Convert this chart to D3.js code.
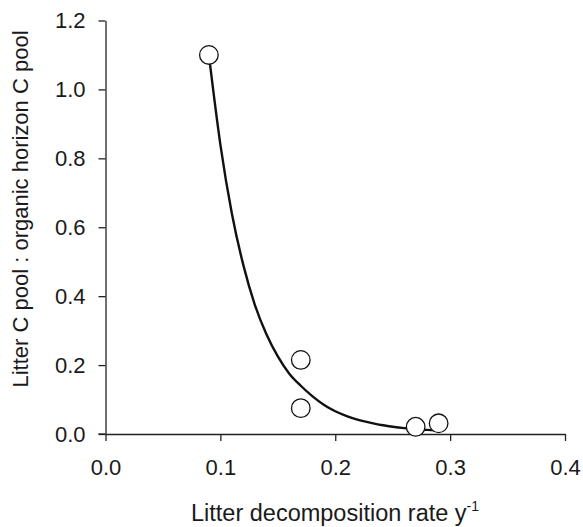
<!DOCTYPE html>
<html lang="en">
<head>
<meta charset="utf-8">
<title>Litter C pool ratio</title>
<script src="https://d3js.org/d3.v7.min.js"></script>
<style>
  body { margin: 0; background: #fff; font-family: "Liberation Sans", Arial, sans-serif; }
  .axis path, .axis line { stroke: #222; stroke-width: 1.3; }
  .axis text { font-size: 22px; fill: #1a1a1a; font-family: "Liberation Sans", Arial, sans-serif; }
  .title { font-size: 22px; fill: #1a1a1a; }
</style>
</head>
<body>
<svg id="chart" width="583" height="527"></svg>
<script>
// observed points
var rateX = [0.09, 0.17, 0.17, 0.27, 0.29];
var ratioY = [1.10, 0.215, 0.075, 0.021, 0.031];

// fitted curve
var curveX = [0.09, 0.10, 0.11, 0.12, 0.13, 0.14, 0.15, 0.16, 0.17, 0.18, 0.19, 0.20,
              0.21, 0.22, 0.23, 0.24, 0.25, 0.26, 0.27, 0.28, 0.29];
var curveY = [1.10, 0.84, 0.64, 0.49, 0.375, 0.29, 0.225, 0.175, 0.14, 0.11, 0.085, 0.066,
              0.052, 0.041, 0.033, 0.026, 0.021, 0.017, 0.014, 0.012, 0.010];

var xTicks = [0.0, 0.1, 0.2, 0.3, 0.4];
var yTicks = [0.0, 0.2, 0.4, 0.6, 0.8, 1.0, 1.2];

var svg = d3.select("#chart");

var x = d3.scaleLinear().domain([0, 0.4]).range([105.5, 565]);
var y = d3.scaleLinear().domain([0, 1.2]).range([434, 20.5]);

//____ axes
svg.append("g")
    .attr("class", "axis")
    .attr("transform", "translate(0," + y(0) + ")")
    .call(d3.axisBottom(x).tickValues(xTicks).tickFormat(d3.format(".1f"))
        .tickSizeInner(7).tickSizeOuter(0).tickPadding(18));

svg.append("g")
    .attr("class", "axis")
    .attr("transform", "translate(" + x(0) + ",0)")
    .call(d3.axisLeft(y).tickValues(yTicks).tickFormat(d3.format(".1f"))
        .tickSizeInner(7).tickSizeOuter(0).tickPadding(13));

// the x axis line reaches past the y axis, like the original
svg.append("line")
    .attr("x1", x(0) - 7).attr("x2", x(0))
    .attr("y1", y(0)).attr("y2", y(0))
    .attr("stroke", "#222").attr("stroke-width", 1.3);

//____ curve
var line = d3.line()
    .x(function(d, i) { return x(curveX[i]); })
    .y(function(d, i) { return y(curveY[i]); })
    .curve(d3.curveMonotoneX);

svg.append("path")
    .datum(curveX)
    .attr("d", line)
    .attr("fill", "none")
    .attr("stroke", "#111")
    .attr("stroke-width", 2.4);

//____ points
svg.selectAll("circle.pt")
    .data(rateX)
    .enter().append("circle")
    .attr("class", "pt")
    .attr("cx", function(d) { return x(d); })
    .attr("cy", function(d, i) { return y(ratioY[i]); })
    .attr("r", 9.3)
    .attr("fill", "#fff")
    .attr("stroke", "#111")
    .attr("stroke-width", 1.3);

//____ titles
var xt = svg.append("text")
    .attr("class", "title")
    .attr("x", 335)
    .attr("y", 521)
    .style("font-size", "23.5px")
    .attr("text-anchor", "middle");
xt.append("tspan").text("Litter decomposition rate y");
xt.append("tspan").attr("dy", -10).style("font-size", "14px").text("-1");

svg.append("text")
    .attr("class", "title")
    .attr("transform", "translate(28,209) rotate(-90)")
    .attr("text-anchor", "middle")
    .text("Litter C pool : organic horizon C pool");
</script>
</body>
</html>
